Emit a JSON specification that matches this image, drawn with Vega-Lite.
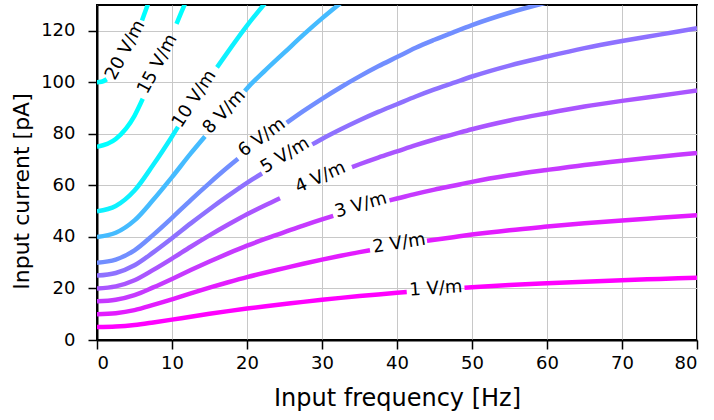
{
  "$schema": "https://vega.github.io/schema/vega-lite/v6.json",
  "autosize": "none",
  "width": 600,
  "height": 335,
  "padding": {"left": 97, "top": 5, "right": 17, "bottom": 80},
  "background": "white",
  "config": {
    "font": "DejaVu Sans",
    "view": {"stroke": "black", "strokeWidth": 2},
    "axis": {
      "domainColor": "black", "domainWidth": 2,
      "tickColor": "black", "tickWidth": 1.5, "tickSize": 9,
      "labelColor": "black", "labelFontSize": 18, "labelFont": "DejaVu Sans",
      "titleColor": "black", "titleFont": "DejaVu Sans", "titleFontWeight": "normal",
      "gridColor": "#c8c8c8", "gridWidth": 1
    }
  },
  "datasets": {
    "lines": [
      {"E":1,"seg":"a","f":0,"I":5.0},{"E":1,"seg":"a","f":2.5,"I":5.2},{"E":1,"seg":"a","f":5,"I":5.8},{"E":1,"seg":"a","f":7.5,"I":6.8},{"E":1,"seg":"a","f":10,"I":7.9},{"E":1,"seg":"a","f":12.5,"I":9.05},{"E":1,"seg":"a","f":15,"I":10.15},{"E":1,"seg":"a","f":17.5,"I":11.2},{"E":1,"seg":"a","f":20,"I":12.2},{"E":1,"seg":"a","f":22.5,"I":13.1},{"E":1,"seg":"a","f":25,"I":13.95},{"E":1,"seg":"a","f":27.5,"I":14.8},{"E":1,"seg":"a","f":30,"I":15.6},{"E":1,"seg":"a","f":32.5,"I":16.35},{"E":1,"seg":"a","f":35,"I":17.05},{"E":1,"seg":"a","f":37.5,"I":17.7},{"E":1,"seg":"a","f":40,"I":18.3},{"E":1,"seg":"a","f":41.3,"I":18.6},
      {"E":1,"seg":"b","f":49,"I":20.25},{"E":1,"seg":"b","f":50,"I":20.45},{"E":1,"seg":"b","f":55,"I":21.3},{"E":1,"seg":"b","f":60,"I":22.0},{"E":1,"seg":"b","f":65,"I":22.65},{"E":1,"seg":"b","f":70,"I":23.2},{"E":1,"seg":"b","f":75,"I":23.7},{"E":1,"seg":"b","f":80,"I":24.2},

      {"E":2,"seg":"a","f":0,"I":10.0},{"E":2,"seg":"a","f":2.5,"I":10.4},{"E":2,"seg":"a","f":5,"I":11.6},{"E":2,"seg":"a","f":7.5,"I":13.6},{"E":2,"seg":"a","f":10,"I":15.8},{"E":2,"seg":"a","f":12.5,"I":18.1},{"E":2,"seg":"a","f":15,"I":20.3},{"E":2,"seg":"a","f":17.5,"I":22.4},{"E":2,"seg":"a","f":20,"I":24.4},{"E":2,"seg":"a","f":22.5,"I":26.2},{"E":2,"seg":"a","f":25,"I":27.9},{"E":2,"seg":"a","f":27.5,"I":29.6},{"E":2,"seg":"a","f":30,"I":31.2},{"E":2,"seg":"a","f":32.5,"I":32.7},{"E":2,"seg":"a","f":35,"I":34.1},{"E":2,"seg":"a","f":36.4,"I":34.8},
      {"E":2,"seg":"b","f":44,"I":38.5},{"E":2,"seg":"b","f":45,"I":38.9},{"E":2,"seg":"b","f":47.5,"I":39.9},{"E":2,"seg":"b","f":50,"I":40.9},{"E":2,"seg":"b","f":55,"I":42.6},{"E":2,"seg":"b","f":60,"I":44.0},{"E":2,"seg":"b","f":65,"I":45.3},{"E":2,"seg":"b","f":70,"I":46.4},{"E":2,"seg":"b","f":75,"I":47.4},{"E":2,"seg":"b","f":80,"I":48.4},

      {"E":3,"seg":"a","f":0,"I":15.0},{"E":3,"seg":"a","f":2.5,"I":15.6},{"E":3,"seg":"a","f":5,"I":17.4},{"E":3,"seg":"a","f":7.5,"I":20.4},{"E":3,"seg":"a","f":10,"I":23.7},{"E":3,"seg":"a","f":12.5,"I":27.15},{"E":3,"seg":"a","f":15,"I":30.45},{"E":3,"seg":"a","f":17.5,"I":33.6},{"E":3,"seg":"a","f":20,"I":36.6},{"E":3,"seg":"a","f":22.5,"I":39.3},{"E":3,"seg":"a","f":25,"I":41.85},{"E":3,"seg":"a","f":27.5,"I":44.4},{"E":3,"seg":"a","f":30,"I":46.8},{"E":3,"seg":"a","f":31.5,"I":48.15},
      {"E":3,"seg":"b","f":39,"I":54.2},{"E":3,"seg":"b","f":40,"I":54.9},{"E":3,"seg":"b","f":42.5,"I":56.7},{"E":3,"seg":"b","f":45,"I":58.35},{"E":3,"seg":"b","f":47.5,"I":59.85},{"E":3,"seg":"b","f":50,"I":61.35},{"E":3,"seg":"b","f":55,"I":63.9},{"E":3,"seg":"b","f":60,"I":66.0},{"E":3,"seg":"b","f":65,"I":67.95},{"E":3,"seg":"b","f":70,"I":69.6},{"E":3,"seg":"b","f":75,"I":71.1},{"E":3,"seg":"b","f":80,"I":72.6},

      {"E":4,"seg":"a","f":0,"I":20.0},{"E":4,"seg":"a","f":2.5,"I":20.8},{"E":4,"seg":"a","f":5,"I":23.2},{"E":4,"seg":"a","f":7.5,"I":27.2},{"E":4,"seg":"a","f":10,"I":31.6},{"E":4,"seg":"a","f":12.5,"I":36.2},{"E":4,"seg":"a","f":15,"I":40.6},{"E":4,"seg":"a","f":17.5,"I":44.8},{"E":4,"seg":"a","f":20,"I":48.8},{"E":4,"seg":"a","f":22.5,"I":52.4},{"E":4,"seg":"a","f":24.4,"I":55.0},
      {"E":4,"seg":"b","f":34,"I":67.1},{"E":4,"seg":"b","f":35,"I":68.2},{"E":4,"seg":"b","f":37.5,"I":70.8},{"E":4,"seg":"b","f":40,"I":73.2},{"E":4,"seg":"b","f":42.5,"I":75.6},{"E":4,"seg":"b","f":45,"I":77.8},{"E":4,"seg":"b","f":47.5,"I":79.8},{"E":4,"seg":"b","f":50,"I":81.8},{"E":4,"seg":"b","f":55,"I":85.2},{"E":4,"seg":"b","f":60,"I":88.0},{"E":4,"seg":"b","f":65,"I":90.6},{"E":4,"seg":"b","f":70,"I":92.8},{"E":4,"seg":"b","f":75,"I":94.8},{"E":4,"seg":"b","f":80,"I":96.8},

      {"E":5,"seg":"a","f":0,"I":25.0},{"E":5,"seg":"a","f":2.5,"I":26.0},{"E":5,"seg":"a","f":5,"I":29.0},{"E":5,"seg":"a","f":7.5,"I":34.0},{"E":5,"seg":"a","f":10,"I":39.5},{"E":5,"seg":"a","f":12.5,"I":45.25},{"E":5,"seg":"a","f":15,"I":50.75},{"E":5,"seg":"a","f":17.5,"I":56.0},{"E":5,"seg":"a","f":20,"I":61.0},{"E":5,"seg":"a","f":22,"I":64.6},
      {"E":5,"seg":"b","f":28.7,"I":75.9},{"E":5,"seg":"b","f":30,"I":78.0},{"E":5,"seg":"b","f":32.5,"I":81.75},{"E":5,"seg":"b","f":35,"I":85.25},{"E":5,"seg":"b","f":37.5,"I":88.5},{"E":5,"seg":"b","f":40,"I":91.5},{"E":5,"seg":"b","f":42.5,"I":94.5},{"E":5,"seg":"b","f":45,"I":97.25},{"E":5,"seg":"b","f":47.5,"I":99.75},{"E":5,"seg":"b","f":50,"I":102.25},{"E":5,"seg":"b","f":55,"I":106.5},{"E":5,"seg":"b","f":60,"I":110.0},{"E":5,"seg":"b","f":65,"I":113.25},{"E":5,"seg":"b","f":70,"I":116.0},{"E":5,"seg":"b","f":75,"I":118.5},{"E":5,"seg":"b","f":80,"I":121.0},

      {"E":6,"seg":"a","f":0,"I":30.0},{"E":6,"seg":"a","f":2.5,"I":31.2},{"E":6,"seg":"a","f":5,"I":34.8},{"E":6,"seg":"a","f":7.5,"I":40.8},{"E":6,"seg":"a","f":10,"I":47.4},{"E":6,"seg":"a","f":12.5,"I":54.3},{"E":6,"seg":"a","f":15,"I":60.9},{"E":6,"seg":"a","f":17.5,"I":67.2},{"E":6,"seg":"a","f":18.8,"I":70.3},
      {"E":6,"seg":"b","f":25.3,"I":84.3},{"E":6,"seg":"b","f":27.5,"I":88.8},{"E":6,"seg":"b","f":30,"I":93.6},{"E":6,"seg":"b","f":32.5,"I":98.1},{"E":6,"seg":"b","f":35,"I":102.3},{"E":6,"seg":"b","f":37.5,"I":106.2},{"E":6,"seg":"b","f":40,"I":109.8},{"E":6,"seg":"b","f":42.5,"I":113.4},{"E":6,"seg":"b","f":45,"I":116.5},{"E":6,"seg":"b","f":47.5,"I":119.4},{"E":6,"seg":"b","f":50,"I":122.2},{"E":6,"seg":"b","f":55,"I":127.0},{"E":6,"seg":"b","f":60,"I":131.0},

      {"E":8,"seg":"a","f":0,"I":40.0},{"E":8,"seg":"a","f":2.5,"I":41.6},{"E":8,"seg":"a","f":5,"I":46.4},{"E":8,"seg":"a","f":7.5,"I":54.4},{"E":8,"seg":"a","f":10,"I":63.2},{"E":8,"seg":"a","f":12.5,"I":72.4},{"E":8,"seg":"a","f":14.4,"I":79.0},
      {"E":8,"seg":"b","f":19.7,"I":96.6},{"E":8,"seg":"b","f":20,"I":97.6},{"E":8,"seg":"b","f":22.5,"I":104.8},{"E":8,"seg":"b","f":25,"I":111.6},{"E":8,"seg":"b","f":27.5,"I":118.4},{"E":8,"seg":"b","f":30,"I":124.8},{"E":8,"seg":"b","f":32.5,"I":130.8},

      {"E":10,"seg":"a","f":0,"I":50.0},{"E":10,"seg":"a","f":2.5,"I":52.0},{"E":10,"seg":"a","f":5,"I":58.0},{"E":10,"seg":"a","f":7.5,"I":68.0},{"E":10,"seg":"a","f":10,"I":79.0},{"E":10,"seg":"a","f":10.8,"I":82.7},
      {"E":10,"seg":"b","f":16,"I":105.8},{"E":10,"seg":"b","f":17.5,"I":112.0},{"E":10,"seg":"b","f":20,"I":122.0},{"E":10,"seg":"b","f":22.5,"I":131.0},

      {"E":15,"seg":"a","f":0,"I":75.0},{"E":15,"seg":"a","f":2.5,"I":78.0},{"E":15,"seg":"a","f":5,"I":87.0},{"E":15,"seg":"a","f":6.1,"I":93.6},
      {"E":15,"seg":"b","f":10.6,"I":122.7},{"E":15,"seg":"b","f":11.25,"I":127.2},{"E":15,"seg":"b","f":12.5,"I":135.75},

      {"E":20,"seg":"a","f":0,"I":100.0},{"E":20,"seg":"a","f":0.6,"I":100.2},{"E":20,"seg":"a","f":1.3,"I":101.2},
      {"E":20,"seg":"b","f":6,"I":124.0},{"E":20,"seg":"b","f":6.25,"I":126.0},{"E":20,"seg":"b","f":7.5,"I":136.0}
    ],
    "labels": [
      {"E":1,"f":45.2,"I":19.8,"text":"1 V/m"},
      {"E":2,"f":40.3,"I":37.4,"text":"2 V/m"},
      {"E":3,"f":35.2,"I":52.2,"text":"3 V/m"},
      {"E":4,"f":29.8,"I":63.0,"text":"4 V/m"},
      {"E":5,"f":25.1,"I":71.6,"text":"5 V/m"},
      {"E":6,"f":22.0,"I":78.5,"text":"6 V/m"},
      {"E":8,"f":17.0,"I":88.5,"text":"8 V/m"},
      {"E":10,"f":13.0,"I":93.5,"text":"10 V/m"},
      {"E":15,"f":8.1,"I":107.0,"text":"15 V/m"},
      {"E":20,"f":3.8,"I":112.5,"text":"20 V/m"}
    ]
  },
  "encoding": {
    "x": {"field": "f", "type": "quantitative", "scale": {"domain": [0, 80], "nice": false},
      "axis": {"title": "Input frequency [Hz]", "titleFontSize": 24, "values": [0,10,20,30,40,50,60,70,80], "labelPadding": 5, "titlePadding": 14}},
    "y": {"field": "I", "type": "quantitative", "scale": {"domain": [0, 130], "nice": false},
      "axis": {"title": "Input current [pA]", "titleFontSize": 22, "values": [0,20,40,60,80,100,120], "labelPadding": 13, "titlePadding": 7, "titleY": 186}}
  },
  "layer": [
    {
      "data": {"name": "lines"},
      "mark": {"type": "line", "interpolate": "monotone", "strokeWidth": 4.5, "clip": true, "strokeCap": "butt"},
      "encoding": {
        "color": {"field": "E", "type": "ordinal", "legend": null,
          "scale": {"domain": [1,2,3,4,5,6,8,10,15,20],
            "range": ["#ff00ff","#e31cff","#c639ff","#aa55ff","#8e71ff","#718eff","#45bbff","#0ef1ff","#00ffff","#00ffff"]}},
        "detail": {"field": "seg"}
      }
    },
    {"data": {"name": "labels"}, "transform": [{"filter": "datum.E == 1"}], "mark": {"type": "text", "fontSize": 18, "angle": -4, "align": "center", "baseline": "middle", "color": "black"}, "encoding": {"text": {"field": "text"}}},
    {"data": {"name": "labels"}, "transform": [{"filter": "datum.E == 2"}], "mark": {"type": "text", "fontSize": 18, "angle": -9, "align": "center", "baseline": "middle", "color": "black"}, "encoding": {"text": {"field": "text"}}},
    {"data": {"name": "labels"}, "transform": [{"filter": "datum.E == 3"}], "mark": {"type": "text", "fontSize": 18, "angle": -16, "align": "center", "baseline": "middle", "color": "black"}, "encoding": {"text": {"field": "text"}}},
    {"data": {"name": "labels"}, "transform": [{"filter": "datum.E == 4"}], "mark": {"type": "text", "fontSize": 18, "angle": -24, "align": "center", "baseline": "middle", "color": "black"}, "encoding": {"text": {"field": "text"}}},
    {"data": {"name": "labels"}, "transform": [{"filter": "datum.E == 5"}], "mark": {"type": "text", "fontSize": 18, "angle": -31, "align": "center", "baseline": "middle", "color": "black"}, "encoding": {"text": {"field": "text"}}},
    {"data": {"name": "labels"}, "transform": [{"filter": "datum.E == 6"}], "mark": {"type": "text", "fontSize": 18, "angle": -36, "align": "center", "baseline": "middle", "color": "black"}, "encoding": {"text": {"field": "text"}}},
    {"data": {"name": "labels"}, "transform": [{"filter": "datum.E == 8"}], "mark": {"type": "text", "fontSize": 18, "angle": -47, "align": "center", "baseline": "middle", "color": "black"}, "encoding": {"text": {"field": "text"}}},
    {"data": {"name": "labels"}, "transform": [{"filter": "datum.E == 10"}], "mark": {"type": "text", "fontSize": 18, "angle": -57, "align": "center", "baseline": "middle", "color": "black"}, "encoding": {"text": {"field": "text"}}},
    {"data": {"name": "labels"}, "transform": [{"filter": "datum.E == 15"}], "mark": {"type": "text", "fontSize": 18, "angle": -62, "align": "center", "baseline": "middle", "color": "black"}, "encoding": {"text": {"field": "text"}}},
    {"data": {"name": "labels"}, "transform": [{"filter": "datum.E == 20"}], "mark": {"type": "text", "fontSize": 18, "angle": -62, "align": "center", "baseline": "middle", "color": "black"}, "encoding": {"text": {"field": "text"}}}
  ]
}
